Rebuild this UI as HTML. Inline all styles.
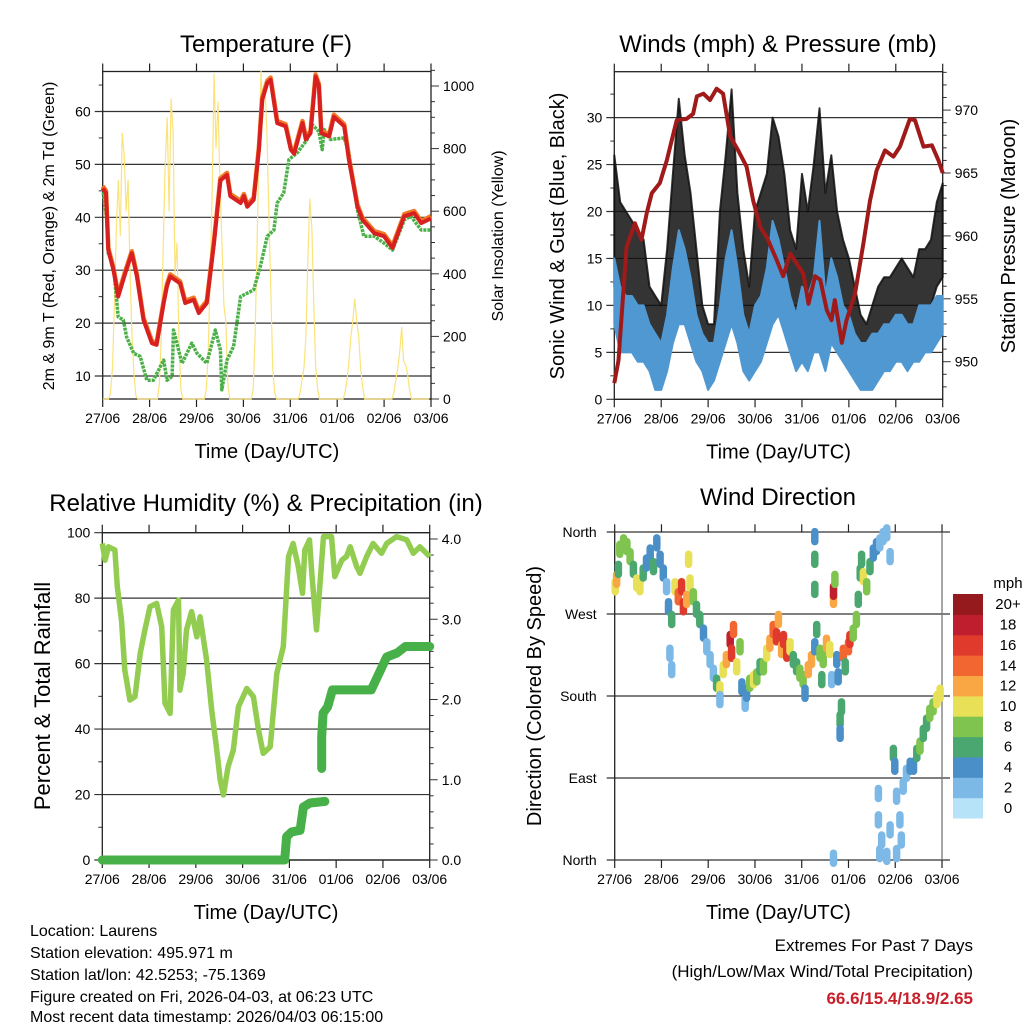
<!DOCTYPE html>
<html><head><meta charset="utf-8">
<style>
html,body{margin:0;padding:0;background:#fff;}
svg{display:block;font-family:"Liberation Sans",Arial,sans-serif;}
</style></head>
<body>
<svg id="fig" width="1024" height="1024" viewBox="0 0 1024 1024" xmlns="http://www.w3.org/2000/svg">
<g id="p1"></g>
<g id="p2"></g>
<g id="p3"></g>
<g id="p4"></g>
<g font-size="16" fill="#000">
<text x="30" y="936">Location: Laurens</text>
<text x="30" y="958">Station elevation: 495.971 m</text>
<text x="30" y="980">Station lat/lon: 42.5253; -75.1369</text>
<text x="30" y="1002">Figure created on Fri, 2026-04-03, at 06:23 UTC</text>
<text x="30" y="1024" dy="-2">Most recent data timestamp: 2026/04/03 06:15:00</text>
</g>
<g text-anchor="end" font-size="17">
<text x="973" y="951">Extremes For Past 7 Days</text>
<text x="973" y="977">(High/Low/Max Wind/Total Precipitation)</text>
<text x="973" y="1004" fill="#c8202a" font-weight="bold">66.6/15.4/18.9/2.65</text>
</g>
</svg>
<script>
// ---------- data ----------
const dayLabels = ["27/06","28/06","29/06","30/06","31/06","01/06","02/06","03/06"];
// Temperature (days since start, F)
const tDays = [0,.07,.12,.23,.33,.48,.62,.73,.87,1.05,1.15,1.30,1.37,1.44,1.65,1.76,1.94,2.05,2.22,2.37,2.51,2.65,2.72,2.94,3.01,3.08,3.22,3.33,3.40,3.51,3.58,3.72,3.90,4.01,4.08,4.26,4.33,4.43,4.54,4.61,4.66,4.83,4.93,5.15,5.25,5.43,5.54,5.79,6.00,6.18,6.43,6.64,6.79,7.0];
const tVals = [45.5,44.6,33.8,30,25,29.4,33.2,28.8,20.6,16.2,15.9,23.8,27,28.8,27.5,23.8,24.4,21.9,23.8,35,47,48,44,42.7,44,42,43.3,52.8,62.2,65.4,66,57.8,57.2,52.8,52,57.8,54.7,55.9,66.6,64.8,55.9,55.3,59,57.2,50.9,42,39.5,37,36.4,34.2,40.2,40.8,38.9,39.8];
const tdDays = [0,.09,.12,.23,.33,.44,.51,.66,.80,.94,1.08,1.23,1.30,1.37,1.48,1.51,1.69,1.90,2.01,2.22,2.40,2.51,2.54,2.65,2.79,2.94,3.22,3.36,3.51,3.65,3.72,3.86,3.97,4.15,4.36,4.47,4.61,4.68,4.72,4.86,5.15,5.25,5.43,5.57,5.79,6.00,6.18,6.43,6.57,6.79,7.0];
const tdVals = [45.5,39.5,33.2,30.7,21.2,20.6,17.4,14.3,13.7,9.2,9.2,11.8,13,9.2,9.9,18.7,12.4,16.2,14.3,12.4,18.7,14.9,7.4,13,15.6,25,26.3,30.7,36.4,37.6,42.7,44.6,50.9,52.2,54.7,57.5,56.2,52.8,56.6,54.7,55,52.2,41.4,36.4,36.4,35.1,33.8,39.5,40.2,37.6,37.6];
// Solar insolation, hourly (W/m2), 7 days x 24
const solar = [
0,0,0,0,20,100,300,550,700,520,850,780,600,700,400,200,80,10,0,0,0,0,0,0,
0,0,0,0,0,50,200,500,750,900,600,960,850,400,500,200,30,0,0,0,0,0,0,0,
0,0,0,0,0,30,150,400,650,1040,800,950,700,500,300,250,50,0,0,0,0,0,0,0,
0,0,0,0,0,30,200,500,800,1050,900,1000,850,600,350,100,20,0,0,0,0,0,0,0,
0,0,0,0,0,20,60,100,200,450,640,550,300,100,30,0,0,0,0,0,0,0,0,0,
0,0,0,0,20,60,120,200,250,320,250,200,100,40,0,0,0,0,0,0,0,0,0,0,
0,0,0,0,0,20,60,100,150,230,120,110,80,30,0,0,0,0,0,0,0,0,0,0];
// Winds, 3-hourly (mph)
const gustMin = [12,9,9,8,8,7,6,5,4,8,12,15,13,10,7,5,3,4,8,12,13,10,7,5,7,8,11,13,14,12,9,7,8,8,10,10,9,12,10,8,7,6,4,3,4,5,6,7,8,8,8,8,9,10,10,12,13];
const gustMax = [26,21,20,19,18,17,12,11,10,16,24,32,26,22,16,10,8,8,20,26,33,22,16,12,20,22,24,30,28,24,18,16,24,20,25,31,22,26,20,17,15,12,9,8,10,12,13,13,14,15,14,13,16,16,17,21,23];
const windMin = [8,5,5,5,4,4,3,1,1,3,6,8,8,6,4,3,1,2,4,6,8,6,3,2,3,4,6,8,9,7,5,3,4,3,5,5,3,6,5,4,3,2,1,1,1,2,3,3,4,4,3,4,4,5,5,6,7];
const windMax = [15,12,11,11,10,10,8,7,6,9,14,18,16,13,9,7,6,6,10,15,18,14,9,7,10,11,14,19,17,14,11,9,12,11,13,19,11,15,13,10,9,7,6,6,7,7,8,8,9,9,8,8,10,10,10,11,11];
// Pressure (mb)
const pDays = [0,.09,.19,.26,.44,.58,.69,.80,.97,1.12,1.33,1.54,1.68,1.76,1.90,2.04,2.18,2.32,2.47,2.64,2.82,2.96,3.11,3.25,3.46,3.60,3.75,3.89,4.03,4.14,4.28,4.39,4.53,4.63,4.70,4.85,4.95,5.13,5.31,5.45,5.59,5.77,5.95,6.09,6.30,6.41,6.59,6.77,6.91,7.0];
const pVals = [948.3,950.1,955.4,959.1,961,959.7,961.8,963.4,964.2,966,969.2,969.3,969.7,971.1,971.3,970.8,971.7,971.3,967.9,966.8,965.5,962.8,960.7,959.9,958.1,956.8,958.6,957.8,957,954.6,956.8,956.5,954.1,953.3,954.9,951.5,953.3,955.4,959.4,962.8,965.2,966.8,966.3,967.1,969.3,969.2,967.1,967.2,966,965];
// Relative humidity (%)
const rhDays = [0,.06,.13,.27,.32,.41,.48,.59,.70,.81,.91,1.02,1.16,1.27,1.34,1.45,1.52,1.63,1.66,1.73,1.80,1.91,2.02,2.09,2.23,2.34,2.44,2.52,2.59,2.69,2.80,2.91,3.09,3.23,3.34,3.44,3.59,3.73,3.87,3.98,4.08,4.19,4.28,4.33,4.43,4.48,4.58,4.65,4.73,4.90,4.97,5.12,5.22,5.30,5.44,5.51,5.65,5.79,5.97,6.08,6.29,6.51,6.65,6.79,7.0];
const rhVals = [96.7,91.6,95.7,94.7,83.5,73.3,58,48.9,49.9,63.1,70.3,77.4,78.4,71.3,47.9,44.8,76.4,79.4,51.9,57,70.3,75.9,68.2,74.3,61.1,45.8,34.6,24.4,19.9,28.5,33.6,46.8,52.4,49.9,39.7,32.6,34.6,57,65.2,92.7,96.7,89.6,81.5,94.7,97.8,87.6,70.3,83.5,98.8,98.8,86.6,91.6,92.7,95.7,89.6,87.6,92.7,96.7,93.7,96.7,98.8,97.8,93.7,95.7,92.7];
// Total precipitation (in); null = gap
const prDays = [0,3.90,3.94,4.05,4.23,4.30,4.44,4.76,null,4.69,4.69,4.72,4.82,4.92,5.75,5.88,6.08,6.30,6.48,7.0];
const prVals = [0,0,0.29,0.35,0.37,0.66,0.71,0.73,null,1.14,1.54,1.83,1.91,2.12,2.12,2.28,2.53,2.58,2.66,2.66];
// Wind direction samples: day, degrees, speed (mph)
const dirDays = [.01,.04,.08,.11,.19,.26,.33,.40,.47,.54,.61,.68,.76,.83,.90,.97,1.04,1.11,1.15,1.22,1.18,1.22,1.29,1.36,1.43,1.47,1.54,1.58,1.61,1.68,1.75,1.82,1.90,1.97,2.04,2.11,2.18,2.25,2.25,2.32,2.39,2.47,2.50,2.54,2.61,2.68,2.72,2.79,2.82,2.89,2.97,3.04,3.11,3.18,3.25,3.32,3.39,3.46,3.50,3.57,3.61,3.68,3.75,3.82,3.89,3.96,4.03,4.07,4.14,4.21,4.28,4.28,4.28,4.32,4.39,4.43,4.46,4.53,4.60,4.64,4.68,4.68,4.71,4.75,4.78,4.82,4.82,4.85,4.89,4.93,5.00,5.03,5.10,5.17,5.21,5.25,5.28,5.32,5.39,5.46,5.53,5.60,5.67,5.74,5.82,5.89,5.96,5.99,6.03,6.10,6.13,6.17,6.24,6.32,6.39,6.46,6.53,6.60,6.67,6.74,6.81,6.89,6.96,5.67,5.82,5.89,5.64,5.64,6.03,4.68,5.71,4.28];
const dirDeg = [300,308,319,341,348,344,333,319,304,300,315,326,337,322,348,330,315,300,278,264,227,209,300,289,300,278,286,330,304,289,275,264,249,234,220,205,194,187,176,209,220,242,227,253,212,234,190,172,183,194,198,201,212,212,227,238,253,245,264,231,242,227,234,220,212,205,198,183,209,220,234,330,297,253,227,198,220,238,231,198,286,295,308,220,201,154,139,168,227,212,234,242,249,264,286,315,330,311,300,322,337,344,348,355,359,333,117,103,70,44,22,81,95,103,103,117,125,139,150,161,168,176,183,7,4,33,44,73,7,2,22,355];
const dirSpd = [10,13,7,8,8,8,8,7,10,11,6,5,4,6,4,4,4,3,4,6,2,2,11,14,17,16,13,10,10,8,6,6,4,2,2,2,6,10,2,10,13,18,16,14,10,8,4,3,5,8,10,8,6,8,10,12,14,17,13,12,16,17,10,6,6,8,8,4,12,12,4,6,7,6,8,6,8,12,10,3,12,19,8,4,4,6,4,6,14,6,14,16,8,8,6,6,7,10,8,6,4,4,2,2,2,2,6,4,2,2,2,2,2,4,4,6,8,6,6,8,8,10,10,2,2,2,2,2,2,2,2,4];
const speedColors = ["#b6e3f8","#7cb9e6","#4a8fc7","#4aa76f","#7ec44f","#e8e158","#f9a744","#f26631","#e03a2c","#be1e2d","#951a1d"];
const speedLabels = ["0","2","4","6","8","10","12","14","16","18","20+"];

// ---------- helpers ----------
const NS = "http://www.w3.org/2000/svg";
function mk(parent, tag, attrs, txt){
  const e = document.createElementNS(NS, tag);
  for (const k in attrs) e.setAttribute(k, attrs[k]);
  if (txt !== undefined) e.textContent = txt;
  parent.appendChild(e);
  return e;
}
function pathFrom(xs, ys, fx, fy){
  let d = "", pen = false;
  for (let i=0;i<xs.length;i++){
    if (xs[i]===null || ys[i]===null){ pen=false; continue; }
    d += (pen?"L":"M") + fx(xs[i]).toFixed(1) + "," + fy(ys[i]).toFixed(1);
    pen = true;
  }
  return d;
}
function axes(g, P, cfg){
  const fx = d => P.x0 + d*(P.x1-P.x0)/7;
  cfg.left.forEach(v=>{
    const y = cfg.fyL(v);
    const l = mk(g,"line",{x1:P.x0-(cfg.gridOut||8),x2:P.x1+(cfg.gridOutR||0),y1:y,y2:y,stroke:"#333","stroke-width":1.2});
    
    
    const t = mk(g,"text",{x:P.x0-(cfg.labOff||12),y:y+5,"text-anchor":"end","font-size":cfg.fs||14},cfg.fmtL?cfg.fmtL(v):String(v));
    
    
  });
  (cfg.leftMinor||[]).forEach(v=>{
    const y=cfg.fyL(v);
    mk(g,"line",{x1:P.x0-4,x2:P.x0,y1:y,y2:y,stroke:"#333","stroke-width":1});
  });
  if (cfg.right){
    cfg.right.forEach(v=>{
      const y=cfg.fyR(v);
      mk(g,"line",{x1:P.x1,x2:P.x1+8,y1:y,y2:y,stroke:"#333","stroke-width":1});
      const t = mk(g,"text",{x:P.x1+12,y:y+5,"font-size":14},cfg.fmtR?cfg.fmtR(v):String(v));
      
      
    });
    (cfg.rightMinor||[]).forEach(v=>{
      const y=cfg.fyR(v);
      mk(g,"line",{x1:P.x1,x2:P.x1+4,y1:y,y2:y,stroke:"#333","stroke-width":1});
    });
  }
  if (cfg.frame) mk(g,"rect",{x:P.x0,y:P.top,width:P.x1-P.x0,height:P.bot-P.top,fill:"none",stroke:"#222","stroke-width":1.3});
  else {
    mk(g,"line",{x1:P.x0,x2:P.x0,y1:P.top,y2:P.bot,stroke:"#222","stroke-width":1.3});
    mk(g,"line",{x1:P.x1,x2:P.x1,y1:P.top,y2:P.bot,stroke:"#777","stroke-width":1.3});
  }
  dayLabels.forEach((lab,i)=>{
    const x=fx(i);
    mk(g,"line",{x1:x,x2:x,y1:P.bot,y2:P.bot+8,stroke:"#222","stroke-width":1.2});
    mk(g,"line",{x1:x,x2:x,y1:P.top,y2:P.top-8,stroke:"#222","stroke-width":1.2});
    const t=mk(g,"text",{x:x,y:P.bot+24,"text-anchor":"middle","font-size":14},lab);
    
    
  });
  const xt=mk(g,"text",{x:(P.x0+P.x1)/2,y:P.bot+59,"text-anchor":"middle","font-size":20},"Time (Day/UTC)");
  
  
  return fx;
}
function rotText(g,x,y,s,fs,name){
  const t=mk(g,"text",{x:0,y:0,transform:`translate(${x},${y}) rotate(-90)`,"text-anchor":"middle","font-size":fs},s);
  
  
}
function title(g,x,y,s,name){
  const t=mk(g,"text",{x:x,y:y,"text-anchor":"middle","font-size":24},s);
  
  
}
function range(a,b,s){const r=[];for(let v=a;v<=b+1e-9;v+=s)r.push(Math.round(v*1000)/1000);return r;}

// ---------- Panel 1: temperature ----------
(function(){
  const g=document.getElementById('p1');
  const P={x0:102.7,x1:431,top:71.5,bot:399};
  const fyT=v=>376-(v-10)*5.29, fyS=v=>399-v*0.313;
  title(g,266,52,"Temperature (F)","temperature-title");
  const fx=axes(g,P,{left:[10,20,30,40,50,60],leftMinor:[15,25,35,45,55,65],fyL:fyT,right:[0,200,400,600,800,1000],rightMinor:range(50,1050,50).filter(v=>v%200),fyR:fyS,frame:true});
  const hrs=solar.map((v,i)=>i/24);
  const s=mk(g,"path",{d:pathFrom(hrs,solar,fx,fyS),fill:"none",stroke:"#fbe37a","stroke-width":1.2});
  
  
  const gr=mk(g,"path",{d:pathFrom(tdDays,tdVals,fx,fyT),fill:"none",stroke:"#4cb048","stroke-width":3.5,"stroke-linejoin":"round","stroke-dasharray":"3 1"});
  
  
  const o=mk(g,"path",{d:pathFrom(tDays,tVals.map(v=>v+0.4),fx,fyT),fill:"none",stroke:"#f07a28","stroke-width":4.5,"stroke-linejoin":"round"});
  
  
  const r=mk(g,"path",{d:pathFrom(tDays,tVals,fx,fyT),fill:"none",stroke:"#d7201f","stroke-width":4,"stroke-linejoin":"round"});
  
  
  rotText(g,54,236,"2m & 9m T (Red, Orange) & 2m Td (Green)",16,"left-axis-title");
  rotText(g,503,236,"Solar Insolation (Yellow)",16,"right-axis-title");
})();

// ---------- Panel 2: winds & pressure ----------
(function(){
  const g=document.getElementById('p2');
  const P={x0:614.3,x1:942.7,top:71.7,bot:399.3};
  const fyW=v=>399.3-v*9.39, fyP=p=>361.7-(p-950)*12.58;
  title(g,778,52,"Winds (mph) & Pressure (mb)","winds-title");
  const fx=axes(g,P,{left:[0,5,10,15,20,25,30],leftMinor:range(2.5,32.5,5),fyL:fyW,right:[950,955,960,965,970],rightMinor:range(948,973,1).filter(v=>v%5),fyR:fyP,frame:true});
  const t3=gustMin.map((v,i)=>i/8);
  function band(lo,hi,col,name,op){
    let d="M"+t3.map((t,i)=>fx(t).toFixed(1)+","+fyW(hi[i]).toFixed(1)).join("L");
    for(let i=t3.length-1;i>=0;i--) d+="L"+fx(t3[i]).toFixed(1)+","+fyW(lo[i]).toFixed(1);
    const e=mk(g,"path",{d:d+"Z",fill:col,"fill-opacity":op,stroke:col,"stroke-opacity":op,"stroke-width":2,"stroke-linejoin":"round"});
    
    
  }
  band(gustMin,gustMax,"#111","gust-band",0.85);
  band(windMin,windMax,"#5098d2","wind-band",1);
  const pr=mk(g,"path",{d:pathFrom(pDays,pVals,fx,fyP),fill:"none",stroke:"#a01a1a","stroke-width":4,"stroke-linejoin":"round"});
  
  
  rotText(g,564,236,"Sonic Wind & Gust (Blue, Black)",20,"left-axis-title");
  rotText(g,1015,236,"Station Pressure (Maroon)",20,"right-axis-title");
})();

// ---------- Panel 3: RH & precip ----------
(function(){
  const g=document.getElementById('p3');
  const P={x0:102.3,x1:429.7,top:532.7,bot:860};
  const fyR=v=>860-v*3.273, fyPr=v=>860-v*80.25;
  title(g,266,511,"Relative Humidity (%) & Precipitation (in)","humidity-title");
  const fx=axes(g,P,{left:[0,20,40,60,80,100],leftMinor:[10,30,50,70,90],fyL:fyR,right:[0,1,2,3,4],fmtR:v=>v.toFixed(1),rightMinor:range(0.2,3.8,0.2).filter(v=>Math.abs(v-Math.round(v))>0.01),fyR:fyPr,frame:true});
  const rh=mk(g,"path",{d:pathFrom(rhDays,rhVals,fx,fyR),fill:"none",stroke:"#92cc50","stroke-width":5.5,"stroke-linejoin":"round"});
  
  
  const pp=mk(g,"path",{d:pathFrom(prDays,prVals,fx,fyPr),fill:"none",stroke:"#48b048","stroke-width":9,"stroke-linejoin":"round","stroke-linecap":"round"});
  
  
  rotText(g,50,696,"Percent & Total Rainfall",22,"left-axis-title");
})();

// ---------- Panel 4: wind direction ----------
(function(){
  const g=document.getElementById('p4');
  const P={x0:614.7,x1:942,top:532.3,bot:860};
  const fyD=v=>860-v*0.9111;
  const dirNames={0:"North",90:"East",180:"South",270:"West",360:"North"};
  title(g,778,505,"Wind Direction","direction-title");
  const fx=axes(g,P,{left:[0,90,180,270,360],fmtL:v=>dirNames[v],fyL:fyD,gridOut:8,gridOutR:8,labOff:18,fs:14,frame:false});
  dirDays.forEach((d,i)=>{
    const ci=Math.min(10,Math.floor(dirSpd[i]/2));
    const cx=fx(d), cy=fyD(dirDeg[i]);
    const c=mk(g,"line",{x1:cx.toFixed(1),x2:cx.toFixed(1),y1:(cy-5).toFixed(1),y2:(cy+5).toFixed(1),stroke:speedColors[ci],"stroke-width":7.5,"stroke-linecap":"round"});
    
    
  });
  const lg=mk(g,"g",{});
  
  
  const bh=224/11;
  speedColors.forEach((c,i)=>{
    const y=818-(i+1)*bh;
    const r=mk(lg,"rect",{x:953,y:y.toFixed(1),width:30,height:(bh+0.5).toFixed(1),fill:c});
    
    
    const t=mk(lg,"text",{x:1008,y:(y+bh/2+5).toFixed(1),"text-anchor":"middle","font-size":15},speedLabels[i]);
    
    
  });
  const u=mk(lg,"text",{x:1008,y:588,"text-anchor":"middle","font-size":15},"mph");
  
  
  rotText(g,541,696,"Direction (Colored By Speed)",20,"left-axis-title");
})();
</script>
</body></html>
